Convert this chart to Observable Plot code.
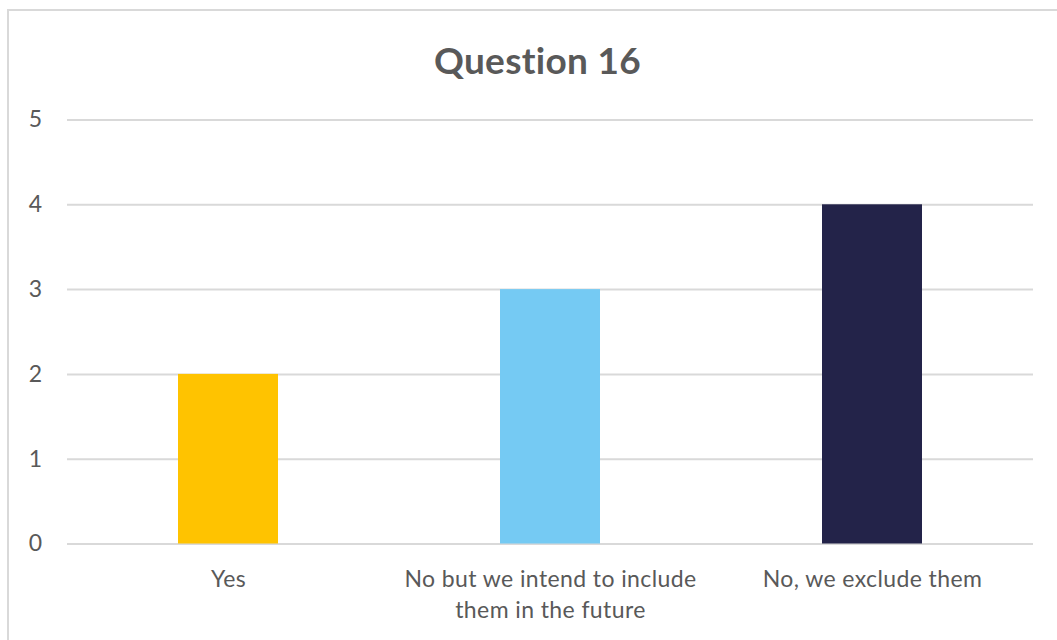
<!DOCTYPE html>
<html>
<head>
<meta charset="utf-8">
<script src="https://cdn.jsdelivr.net/npm/d3@7"></script>
<script src="https://cdn.jsdelivr.net/npm/@observablehq/plot@0.6"></script>
<style>
  html, body { margin: 0; padding: 0; background: #fff; }
  #wrap { position: relative; width: 1057px; height: 640px; overflow: hidden; font-family: Lato, "Open Sans", sans-serif; }
  #frame { position: absolute; left: 7px; top: 9px; width: 1100px; height: 700px; border: 2px solid #d9d9d9; box-sizing: border-box; }
  #title { position: absolute; left: 0; top: 0; width: 1075px; height: 100px; line-height: 120px; text-align: center; font-size: 37px; letter-spacing: 0.3px; font-weight: bold; color: #595959; }
  #chart { position: absolute; left: 0; top: 100px; }
</style>
</head>
<body>
<div id="wrap">
  <div id="frame"></div>
  <div id="title">Question 16</div>
  <div id="chart"></div>
</div>
<script>
const categories = ["Yes", "No but we intend to include them in the future", "No, we exclude them"];
const values = [2, 3, 4];
const colors = ["#FFC300", "#75CAF3", "#232349"];
const tickLabels = ["Yes", "No but we intend to include\nthem in the future", "No, we exclude them"];
const yTicks = [0, 1, 2, 3, 4, 5];

const data = categories.map((c, i) => ({category: c, value: values[i], color: colors[i]}));

const chart = Plot.plot({
  width: 1057,
  height: 540,
  marginLeft: 67,
  marginRight: 24,
  marginTop: 19.5,
  marginBottom: 96.5,
  style: {fontFamily: "Lato, 'Open Sans', sans-serif", color: "#595959", background: "transparent", letterSpacing: "0.4px"},
  x: {domain: categories, paddingInner: 0.69, paddingOuter: 0.345, label: null},
  y: {domain: [0, 5], label: null},
  marks: [
    Plot.ruleY(yTicks, {stroke: "#d9d9d9", strokeWidth: 2}),
    Plot.barY(data, {x: "category", y: "value", fill: "color"}),
    Plot.axisY({ticks: yTicks, tickFormat: "d", tickSize: 0, tickPadding: 25, fontSize: 23, fill: "#595959", label: null}),
    Plot.axisX({tickSize: 0, tickPadding: 21, fontSize: 23, lineHeight: 1.35, fill: "#595959", label: null,
      tickFormat: (d) => tickLabels[categories.indexOf(d)]})
  ]
});
document.getElementById("chart").appendChild(chart);
</script>
</body>
</html>
